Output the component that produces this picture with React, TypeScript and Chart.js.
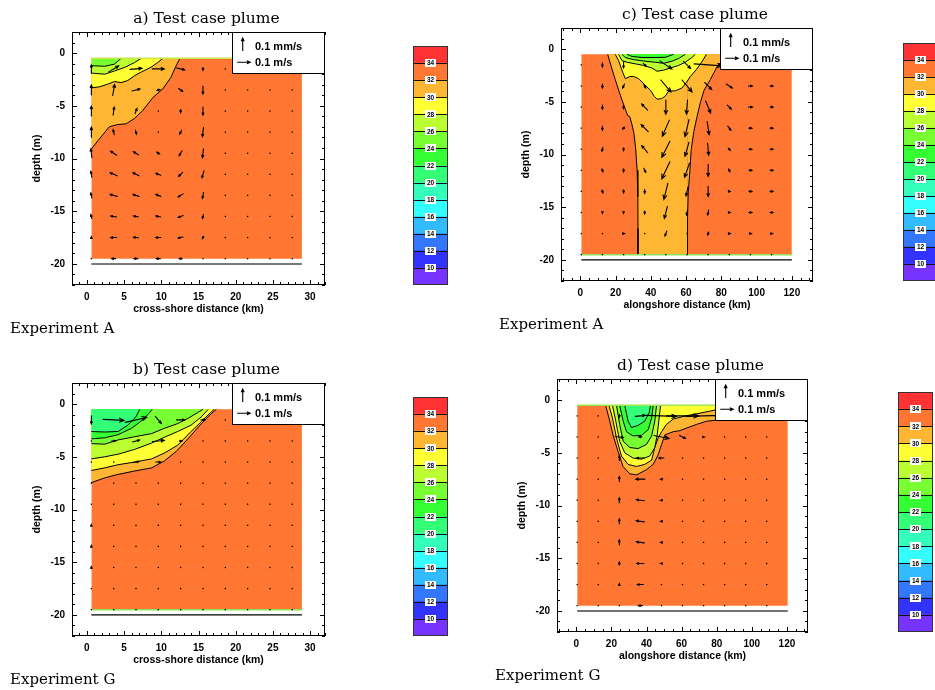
import React, { useEffect, useRef } from 'react';
import { Chart, registerables } from 'chart.js';

Chart.register(...registerables);

const SANS = '"Liberation Sans", Arial, sans-serif';
const SERIF = '"DejaVu Serif", serif';

// ---------- salinity classes / colour bar ----------
const SALINITY_EDGES = [8, 10, 12, 14, 16, 18, 20, 22, 24, 26, 28, 30, 32, 34, 36];
const SALINITY_COLORS = ['#7733ff', '#3333ff', '#3377ff', '#33bbff', '#33ffff', '#33ffbb', '#33ff77', '#33ff33', '#77ff33', '#bbff33', '#ffff33', '#ffb733', '#ff7733', '#ff3333'];
const COLORBAR_LABELS = [10, 12, 14, 16, 18, 20, 22, 24, 26, 28, 30, 32, 34];
const AMBIENT_SALINITY = 33;

// ---------- axes ----------
const DEPTH_TICKS = [-20, -15, -10, -5, 0];
const CROSS_TICKS = [0, 5, 10, 15, 20, 25, 30];
const ALONG_TICKS = [0, 20, 40, 60, 80, 100, 120];

// ---------- velocity grid ----------
const DEPTH_ROWS = [-1.5, -3.5, -5.5, -7.5, -9.5, -11.5, -13.5, -15.5, -17.5, -19.5];
const CROSS_COLS = [0.6, 3.6, 6.6, 9.6, 12.6, 15.6, 18.6, 21.6, 24.6, 27.6];
const ALONG_COLS = [0.5, 12.5, 24.5, 36.5, 48.5, 60.5, 72.5, 84.5, 96.5, 108.5];
const REF_U = 10; // cm/s  (0.1 m/s)
const REF_W = 100; // µm/s (0.1 mm/s)

// Panel a: horizontal velocity (cm/s) and vertical velocity (µm/s)
const U_A = [
  [0, 7.7, 9.2, 9.2, 6.2, 0, 0.4, 0.4, 0.4, 0.4],
  [0, 1.5, 6.2, 2.3, 3.1, 0, 0.4, 0.4, 0.4, 0.4],
  [0, 0.8, 1.5, 0.4, 0, 0, 0.4, 0.4, 0.4, 0.4],
  [0, -0.8, 0.8, 0, -1.5, -0.8, 0.4, 0.4, 0.4, 0.4],
  [-0.8, -4.6, -3.8, -2.3, -2.3, -0.8, 0.4, 0.4, 0.4, 0.4],
  [-0.8, -5.4, -4.6, -3.8, -3.1, -1.5, 0.4, 0.4, 0.4, 0.4],
  [-0.8, -5.4, -4.6, -3.8, -3.8, -0.8, 0.4, 0.4, 0.4, 0.4],
  [-0.8, -4.6, -3.8, -3.8, -3.8, -0.8, 0.4, 0.4, 0.4, 0.4],
  [0, -4.6, -3.8, -3.8, -3.8, -0.8, 0.4, 0.4, 0.4, 0.4],
  [0, -3.1, -3.1, -3.1, -2.3, 0, 0.4, 0.4, 0.4, 0.4],
];
const W_A = [
  [62, 46, 8, 0, -15, -23, 0, 0, 0, 0],
  [77, 85, 15, 8, -23, -62, 0, 0, 0, 0],
  [77, 62, 38, 0, -23, -62, 0, 0, 0, 0],
  [77, 38, -31, -8, -31, -69, 0, 0, 0, 0],
  [69, 31, 23, 15, -38, -69, 0, 0, 0, 0],
  [46, 23, 23, 15, -31, -54, 0, 0, 0, 0],
  [38, 15, 15, 15, -23, -46, 0, 0, 0, 0],
  [31, 8, 8, 8, -15, -31, 0, 0, 0, 0],
  [15, 0, 4, 0, -8, -15, 0, 0, 0, 0],
  [4, 0, 0, 0, 0, 4, 0, 0, 0, 0],
];

// Panel b
const U_B = [
  [0, 16, 16.5, 4.6, 6.2, 3.1, 0.4, 0.4, 0.4, 0.4],
  [0.4, 3.1, 5.4, 9.2, 2.3, 0.4, 0.4, 0.4, 0.4, 0.4],
  [0.4, 0.4, 4.6, 3.8, 0.4, 0.4, 0.4, 0.4, 0.4, 0.4],
  [0.4, 0.4, 0.4, 0.4, 0.4, 0.4, 0.4, 0.4, 0.4, 0.4],
  [0.4, 0.4, 0.4, 0.4, 0.4, 0.4, 0.4, 0.4, 0.4, 0.4],
  [0, 0.4, 0.4, 0.4, 0.4, 0.4, 0.4, 0.4, 0.4, 0.4],
  [0, 0.4, 0.4, 0.4, 0.4, 0.4, 0.4, 0.4, 0.4, 0.4],
  [0, 0.4, 0.4, 0.4, 0.4, 0.4, 0.4, 0.4, 0.4, 0.4],
  [0, 0.4, 0.4, 0.4, 0.4, 0.4, 0.4, 0.4, 0.4, 0.4],
  [0.4, 0.4, 0.4, 0.4, 0.4, 0.4, 0.4, 0.4, 0.4, 0.4],
];
const W_B = [
  [-62, -8, 38, -54, 0, 0, 0, 0, 0, 0],
  [0, 0, 15, 8, 0, 0, 0, 0, 0, 0],
  [0, 0, 8, 0, 0, 0, 0, 0, 0, 0],
  [0, 0, 0, 0, 0, 0, 0, 0, 0, 0],
  [0, 0, 0, 0, 0, 0, 0, 0, 0, 0],
  [15, 0, 0, 0, 0, 0, 0, 0, 0, 0],
  [15, 0, 0, 0, 0, 0, 0, 0, 0, 0],
  [15, 0, 0, 0, 0, 0, 0, 0, 0, 0],
  [8, 0, 0, 0, 0, 0, 0, 0, 0, 0],
  [0, 0, 0, 0, 0, 0, 0, 0, 0, 0],
];

// Panel c
const U_C = [
  [0.4, 0, 0, 2.3, 9.2, 5.4, 21.5, 15.4, 7.7, 3.8],
  [0.4, 0, -1.5, 1.5, 7.7, 7.7, 5.4, 4.6, 3.1, 2.3],
  [0.4, 0, 0, -4.6, 0, -0.8, 3.8, 3.1, 3.1, 2.3],
  [0.4, 0, -1.5, -5.4, -5.4, -3.1, 1.5, 2.3, 2.3, 2.3],
  [0.4, -0.8, 0, -4.6, -6.2, -3.1, 0.8, 1.5, 2.3, 2.3],
  [0.4, 0.8, 0, 1.5, -6.2, -3.8, 0, 0.8, 2.3, 2.3],
  [0.4, 0.8, 0, 0, -3.1, -1.5, 0, 1.5, 2.3, 2.3],
  [0.4, 0, 0, 0, -2.3, -0.8, -0.8, 1.5, 2.3, 2.3],
  [0.4, 0.4, 1.5, 0.4, -1.5, 0.4, -0.8, 1.5, 1.5, 1.5],
  [0.4, 0.4, 0.4, 0.4, 0.4, 0.4, 0.4, 0.4, 0.4, 0.4],
];
const W_C = [
  [0, -31, -46, -23, -62, -54, -15, -15, 0, 0],
  [0, -31, -31, -31, -92, -92, -54, -31, 0, 0],
  [0, -31, -23, 46, -108, -108, -92, -31, 0, 0],
  [0, -31, -15, 54, -123, -131, -100, -31, 0, 0],
  [0, -31, -23, 54, -123, -108, -92, -15, 0, 0],
  [0, -23, -23, -31, -131, -108, -92, -23, 0, 0],
  [0, -23, -23, -31, -123, -69, -77, 0, 0, 0],
  [0, -15, -15, -23, -92, -38, -38, 0, 0, 0],
  [0, 0, 0, 0, -38, 0, -23, 0, 0, 0],
  [0, 0, 0, 0, 0, 0, 0, 0, 0, 0],
];

// Panel d
const U_D = [
  [0.4, 0.4, 0, 7.7, 23, 24.6, 27, 15.4, 3.8, 2.3],
  [0.4, 0.4, 6.2, -2.3, 11.5, 4.6, 1.5, 0.4, 0.4, 0.4],
  [0.4, 0.4, 0, -6.2, -3.8, -0.8, 0.4, 0.4, 0.4, 0.4],
  [0.4, 0.4, 0, -6.9, -1.5, 0.4, 0.4, 0.4, 0.4, 0.4],
  [0.4, 0.4, 0, -6.2, -1.5, 0.8, 0.4, 0.4, 0.4, 0.4],
  [0.4, 0.4, 0, -6.2, -1.5, 0.4, 0.4, 0.4, 0.4, 0.4],
  [0.4, 0.4, 0, -6.2, -1.5, 0.4, 0.4, 0.4, 0.4, 0.4],
  [0.4, 0.4, 0, -5.4, -1.5, 0.4, 0.4, 0.4, 0.4, 0.4],
  [0.4, 0.4, 0, -4.6, 0.4, 0.4, 0.4, 0.4, 0.4, 0.4],
  [0.4, 0.4, 0.4, -3.1, 0.4, 0.4, 0.4, 0.4, 0.4, 0.4],
];
const W_D = [
  [0, 0, -23, 8, -8, 0, 8, 0, 0, 0],
  [0, 0, -8, 0, -23, -23, 0, 0, 0, 0],
  [0, 0, 38, 0, 0, 0, 0, 0, 0, 0],
  [0, 0, 38, 0, 0, 0, 0, 0, 0, 0],
  [0, 0, 38, 8, 0, 0, 0, 0, 0, 0],
  [0, 0, 38, 8, 0, 0, 0, 0, 0, 0],
  [0, 0, 38, 8, 0, 0, 0, 0, 0, 0],
  [0, 0, 23, 0, 0, 0, 0, 0, 0, 0],
  [0, 0, 15, 0, 0, 0, 0, 0, 0, 0],
  [0, 0, 0, 0, 0, 0, 0, 0, 0, 0],
];

// ---------- salinity contours [distance km, depth m] ----------
const A_S32 = [[0.6, -9.1], [1.5, -8.3], [3.0, -7.0], [4.0, -6.8], [5.3, -6.7], [6.4, -6.2], [7.5, -5.45], [8.9, -4.2], [10.2, -3.4], [11.3, -2.3], [12.0, -1.2], [12.5, -0.5]];
const A_S30 = [[0.6, -3.3], [1.7, -3.2], [2.8, -2.95], [3.7, -2.7], [4.6, -2.8], [5.5, -2.6], [6.4, -2.15], [7.3, -1.8], [8.6, -1.35], [9.5, -0.9], [10.2, -0.5]];
const A_S28 = [[0.6, -1.9], [2.4, -2.0], [3.7, -1.7], [5.1, -1.35], [6.4, -0.9], [7.3, -0.5]];
const A_S26 = [[0.6, -1.2], [2.4, -1.25], [3.7, -1.05], [4.6, -0.5]];

const B_S32 = [[0.6, -7.45], [2.4, -7.0], [4.0, -6.7], [6.4, -6.35], [8.7, -6.05], [10.4, -5.4], [12.0, -4.5], [13.7, -3.2], [15.2, -2.0], [16.5, -1.05], [17.4, -0.5]];
const B_S30 = [[0.6, -6.3], [2.4, -6.05], [4.2, -5.75], [6.4, -5.5], [8.7, -5.2], [10.4, -4.65], [12.2, -3.9], [14.0, -2.6], [15.4, -1.65], [16.7, -0.75], [17.1, -0.5]];
const B_S28 = [[0.6, -5.2], [2.4, -5.0], [4.2, -4.75], [6.4, -4.3], [8.7, -3.7], [10.4, -3.15], [12.2, -2.6], [14.0, -2.0], [15.4, -1.2], [16.3, -0.5]];
const B_S26 = [[0.6, -3.75], [2.4, -3.8], [4.2, -3.4], [6.4, -3.1], [8.7, -2.8], [10.4, -2.3], [12.2, -1.85], [13.6, -1.35], [14.9, -0.8], [15.6, -0.5]];
const B_S24 = [[0.6, -3.3], [2.4, -3.2], [4.2, -2.9], [6.0, -2.3], [7.5, -1.5], [8.3, -0.9], [8.8, -0.5]];
const B_S22 = [[0.6, -2.6], [2.4, -2.65], [4.2, -2.6], [5.5, -2.0], [6.6, -1.2], [7.1, -0.5]];

const C_S32 = [[15.5, -0.5], [17.4, -1.6], [19.8, -2.9], [22.7, -4.4], [25.5, -5.7], [26.8, -6.3], [28.0, -6.4], [29.2, -7.1], [30.4, -8.0], [31.4, -9.5], [32.2, -11.5], [32.6, -14.0], [32.7, -17.0], [32.7, -19.5], [60.8, -19.5], [60.8, -16.0], [61.2, -13.6], [62.2, -11.4], [62.9, -9.5], [64.4, -7.8], [66.2, -6.4], [68.2, -5.0], [70.2, -3.9], [73.7, -2.9], [77.5, -1.7], [80.3, -1.1], [82.0, -0.5]];
const C_S30 = [[19.8, -0.5], [21.7, -1.1], [24.0, -2.2], [25.5, -2.8], [28.0, -2.6], [30.2, -2.6], [33.0, -2.8], [36.0, -3.3], [39.7, -3.9], [42.0, -4.5], [43.5, -4.75], [46.0, -4.7], [48.0, -4.5], [50.0, -4.0], [54.0, -3.95], [57.6, -3.7], [60.0, -3.2], [62.4, -2.6], [66.0, -1.9], [69.0, -1.2], [71.5, -0.5]];
const C_S28 = [[21.7, -0.5], [23.6, -1.1], [26.5, -1.25], [31.2, -1.4], [35.9, -1.55], [40.6, -1.8], [43.5, -2.1], [47.2, -2.0], [51.0, -1.8], [55.7, -1.55], [59.5, -1.25], [63.3, -0.8], [65.2, -0.5]];
const C_S26 = [[23.6, -0.5], [25.5, -0.8], [30.2, -1.0], [36.8, -1.15], [42.5, -1.25], [47.2, -1.35], [52.0, -1.15], [55.7, -0.9], [59.5, -0.5]];
const C_S24 = [[26.5, -0.5], [29.3, -0.7], [35.0, -0.8], [42.5, -0.8], [48.2, -0.78], [52.9, -0.5]];

const D_S32 = [[16.7, -0.5], [18.6, -1.7], [20.9, -3.3], [23.8, -4.9], [26.6, -6.3], [30.5, -7.0], [34.3, -7.1], [40.0, -6.6], [43.8, -6.1], [46.6, -5.2], [48.6, -4.2], [50.5, -3.3], [55.2, -3.0], [59.0, -2.9], [62.9, -2.65], [68.6, -2.3], [74.3, -2.0], [80.0, -1.9], [85.0, -1.5], [90.0, -0.5]];
const D_S30 = [[18.6, -0.5], [20.6, -1.7], [22.9, -3.6], [25.7, -5.3], [29.5, -6.1], [34.3, -6.3], [39.0, -6.1], [42.9, -5.7], [44.7, -4.5], [46.6, -3.6], [48.6, -3.0], [51.4, -2.3], [55.2, -1.8], [60.9, -1.55], [68.6, -1.3], [76.2, -1.05], [80.0, -0.9], [86.0, -0.5]];
const D_S28 = [[20.6, -0.5], [22.5, -2.0], [24.7, -3.9], [27.6, -5.0], [32.3, -5.5], [37.1, -5.6], [41.9, -5.3], [44.7, -4.5], [46.1, -3.3], [47.2, -1.7], [48.0, -0.5]];
const D_S26 = [[22.9, -0.5], [24.7, -2.3], [26.7, -3.9], [30.5, -4.5], [35.2, -4.6], [40.0, -4.2], [42.9, -3.4], [44.7, -2.0], [45.7, -0.5]];
const D_S24 = [[24.7, -0.5], [26.7, -2.0], [28.6, -3.0], [32.3, -3.4], [37.1, -3.35], [41.0, -2.8], [42.9, -1.7], [43.8, -0.5]];
const D_S22 = [[27.6, -0.5], [29.5, -2.0], [31.4, -2.6], [35.2, -2.4], [39.0, -2.0], [41.5, -1.2], [42.3, -0.5]];

// ---------- layout (page pixels) ----------
const PAGE_W = 935;
const PAGE_H = 690;
const Y_AXIS_W = 41;
const X_AXIS_H = 30;
const U_PX = 1.3; // px per cm/s
const W_PX = 0.13; // px per µm/s

const PANELS = [
  {
    key: 'a', title: 'a) Test case plume', experiment: 'Experiment A',
    frame: { l: 72, t: 32, r: 325, b: 285 }, xRange: [-2, 32], xTicks: CROSS_TICKS, xMinor: 1,
    xTitle: 'cross-shore distance (km)', domain: [0.6, 28.9],
    contours: [[32, A_S32], [30, A_S30], [28, A_S28], [26, A_S26]],
    cols: CROSS_COLS, u: U_A, w: W_A,
    edge: { y: -0.5, color: '#c8e648' }, floor: { color: '#7a7a7a', width: 2 },
    bar: { l: 413, t: 46, r: 448, b: 285 }, barCanvasW: PAGE_W,
  },
  {
    key: 'b', title: 'b) Test case plume', experiment: 'Experiment G',
    frame: { l: 72, t: 383, r: 325, b: 636 }, xRange: [-2, 32], xTicks: CROSS_TICKS, xMinor: 1,
    xTitle: 'cross-shore distance (km)', domain: [0.6, 28.9],
    contours: [[32, B_S32], [30, B_S30], [28, B_S28], [26, B_S26], [24, B_S24], [22, B_S22]],
    cols: CROSS_COLS, u: U_B, w: W_B,
    edge: { y: -19.5, color: '#8fe25a' }, floor: { color: '#000', width: 1.3 },
    bar: { l: 413, t: 397, r: 448, b: 636 }, barCanvasW: PAGE_W,
  },
  {
    key: 'c', title: 'c) Test case plume', experiment: 'Experiment A',
    frame: { l: 561, t: 28, r: 813, b: 281 }, xRange: [-11, 132], xTicks: ALONG_TICKS, xMinor: 5,
    xTitle: 'alongshore distance (km)', domain: [0.5, 120],
    contours: [[32, C_S32], [30, C_S30], [28, C_S28], [26, C_S26], [24, C_S24]],
    cols: ALONG_COLS, u: U_C, w: W_C,
    edge: { y: -19.5, color: '#8fe25a' }, floor: { color: '#000', width: 1.3 },
    bar: { l: 903, t: 43, r: 938, b: 281 }, barCanvasW: 950,
  },
  {
    key: 'd', title: 'd) Test case plume', experiment: 'Experiment G',
    frame: { l: 557, t: 379, r: 808, b: 632 }, xRange: [-11, 132], xTicks: ALONG_TICKS, xMinor: 5,
    xTitle: 'alongshore distance (km)', domain: [0.5, 120.5],
    contours: [[32, D_S32], [30, D_S30], [28, D_S28], [26, D_S26], [24, D_S24], [22, D_S22]],
    cols: ALONG_COLS, u: U_D, w: W_D,
    edge: { y: -0.5, color: '#9be64a' }, floor: { color: '#444', width: 1.5 },
    bar: { l: 898, t: 392, r: 933, b: 632 }, barCanvasW: PAGE_W,
  },
];

// ---------- helpers ----------
function bandColor(level) {
  let idx = 0;
  for (let i = 0; i < SALINITY_EDGES.length - 1; i++) {
    if (level > SALINITY_EDGES[i] && level <= SALINITY_EDGES[i + 1]) idx = i;
  }
  return SALINITY_COLORS[idx];
}

function drawArrow(ctx, x0, y0, x1, y1) {
  const dx = x1 - x0;
  const dy = y1 - y0;
  const len = Math.hypot(dx, dy);
  if (len < 1.6) {
    ctx.fillRect((x0 + x1) / 2 - 0.65, (y0 + y1) / 2 - 0.65, 1.3, 1.3);
    return;
  }
  const a = Math.atan2(dy, dx);
  const h = Math.min(5, Math.max(2, len * 0.28));
  const sp = 0.42;
  ctx.beginPath();
  ctx.moveTo(x0, y0);
  ctx.lineTo(x1, y1);
  ctx.moveTo(x1 - h * Math.cos(a - sp), y1 - h * Math.sin(a - sp));
  ctx.lineTo(x1, y1);
  ctx.lineTo(x1 - h * Math.cos(a + sp), y1 - h * Math.sin(a + sp));
  ctx.stroke();
}

function panelPlugin(p) {
  return {
    id: 'panel-' + p.key,
    afterDatasetsDraw(chart) {
      const { ctx, scales } = chart;
      const xs = scales.x;
      const ys = scales.y;
      ctx.save();
      ctx.strokeStyle = '#000';
      ctx.fillStyle = '#000';
      ctx.lineWidth = 1.1;
      ctx.lineCap = 'round';
      DEPTH_ROWS.forEach((yv, i) => {
        p.cols.forEach((xv, j) => {
          const px = xs.getPixelForValue(xv);
          const py = ys.getPixelForValue(yv);
          const dx = p.u[i][j] * U_PX;
          const dy = -p.w[i][j] * W_PX;
          drawArrow(ctx, px - dx / 2, py - dy / 2, px + dx / 2, py + dy / 2);
        });
      });
      ctx.restore();
    },
    afterDraw(chart) {
      const { ctx, chartArea, scales } = chart;
      const { left, right, top, bottom } = chartArea;
      const xs = scales.x;
      const ys = scales.y;
      ctx.save();
      ctx.strokeStyle = '#000';
      ctx.lineWidth = 1;
      // frame
      ctx.strokeRect(Math.round(left) + 0.5, Math.round(top) + 0.5, Math.round(right - left) - 1, Math.round(bottom - top) - 1);
      // inward ticks
      ctx.beginPath();
      const tickSet = (scale, step, majors, horiz) => {
        const lo = Math.ceil(scale.min / step - 1e-9);
        const hi = Math.floor(scale.max / step + 1e-9);
        for (let k = lo; k <= hi; k++) {
          const v = k * step;
          const major = majors.some((m) => Math.abs(m - v) < 1e-9);
          const L = major ? 5 : 3;
          const pix = Math.round(scale.getPixelForValue(v)) + 0.5;
          if (horiz) {
            ctx.moveTo(pix, bottom); ctx.lineTo(pix, bottom - L);
            ctx.moveTo(pix, top); ctx.lineTo(pix, top + L);
          } else {
            ctx.moveTo(left, pix); ctx.lineTo(left + L, pix);
            ctx.moveTo(right, pix); ctx.lineTo(right - L, pix);
          }
        }
      };
      tickSet(xs, p.xMinor, p.xTicks, true);
      tickSet(ys, 1, DEPTH_TICKS, false);
      ctx.stroke();

      // reference-vector box
      const bw = 93;
      const bh = 42;
      const bx = Math.round(right) - bw;
      const by = Math.round(top);
      ctx.fillStyle = '#fff';
      ctx.fillRect(bx, by, bw, bh);
      ctx.strokeRect(bx + 0.5, by + 0.5, bw - 1, bh - 1);
      ctx.fillStyle = '#000';
      ctx.lineWidth = 1.1;
      const up = REF_W * W_PX;
      drawArrow(ctx, bx + 10.7, by + 12.5 + up / 2, bx + 10.7, by + 12.5 - up / 2);
      const rt = REF_U * U_PX;
      drawArrow(ctx, bx + 11.7 - rt / 2, by + 30.3, bx + 11.7 + rt / 2, by + 30.3);
      ctx.font = `bold 11px ${SANS}`;
      ctx.textAlign = 'left';
      ctx.textBaseline = 'alphabetic';
      ctx.fillText('0.1 mm/s', bx + 23, by + 18);
      ctx.fillText('0.1 m/s', bx + 23, by + 34);

      // titles
      ctx.font = `15.5px ${SERIF}`;
      ctx.textAlign = 'center';
      ctx.fillText(p.title, (left + right) / 2 + 8, top - 9.3);
      ctx.font = `15px ${SERIF}`;
      ctx.textAlign = 'left';
      ctx.fillText(p.experiment, left - 62, bottom + 48);
      ctx.restore();
    },
  };
}

function plotConfig(p) {
  const [d0, d1] = p.domain;
  const hideEdge = (ctx) => {
    const y0 = ctx.p0.parsed.y;
    const y1 = ctx.p1.parsed.y;
    return (y0 <= -19.45 && y1 <= -19.45) || (y0 >= -0.55 && y1 >= -0.55) ? 'rgba(0,0,0,0)' : '#000';
  };
  const layers = [
    {
      data: [{ x: d0, y: -19.5 }, { x: d1, y: -19.5 }],
      fill: { value: -0.5 }, backgroundColor: bandColor(AMBIENT_SALINITY), borderWidth: 0,
    },
    ...p.contours.map(([level, pts]) => ({
      data: pts.map(([x, y]) => ({ x, y })),
      fill: { value: -0.5 }, backgroundColor: bandColor(level),
      borderColor: '#000', borderWidth: 1, segment: { borderColor: hideEdge },
    })),
    {
      data: [{ x: d0, y: p.edge.y }, { x: d1, y: p.edge.y }],
      fill: false, borderColor: p.edge.color, borderWidth: 1.5,
    },
    {
      data: [{ x: d0, y: -20 }, { x: d1, y: -20 }],
      fill: false, borderColor: p.floor.color, borderWidth: p.floor.width,
    },
  ];
  const n = layers.length;
  const datasets = layers.map((ds, i) => ({ ...ds, order: n - i, pointRadius: 0, tension: 0 }));
  const f = p.frame;
  const tickFont = { family: SANS, size: 10, weight: 'bold' };
  const titleFont = { family: SANS, size: 10.5, weight: 'bold' };
  return {
    type: 'line',
    data: { datasets },
    options: {
      animation: false,
      responsive: false,
      events: [],
      layout: { padding: { left: f.l - Y_AXIS_W, top: f.t, right: PAGE_W - f.r, bottom: PAGE_H - f.b - X_AXIS_H } },
      plugins: { legend: { display: false }, tooltip: { enabled: false }, title: { display: false } },
      scales: {
        x: {
          type: 'linear', min: p.xRange[0], max: p.xRange[1],
          afterBuildTicks: (s) => { s.ticks = p.xTicks.map((v) => ({ value: v })); },
          afterFit: (s) => { s.height = X_AXIS_H; },
          grid: { display: false, drawTicks: false }, border: { display: false },
          ticks: { padding: 6, color: '#000', font: tickFont, maxRotation: 0, autoSkip: false, callback: (v) => String(v) },
          title: { display: true, text: p.xTitle, color: '#000', font: titleFont, padding: 0 },
        },
        y: {
          type: 'linear', min: -22, max: 2,
          afterBuildTicks: (s) => { s.ticks = DEPTH_TICKS.map((v) => ({ value: v })); },
          afterFit: (s) => { s.width = Y_AXIS_W; },
          grid: { display: false, drawTicks: false }, border: { display: false },
          ticks: { padding: 7, color: '#000', font: tickFont, callback: (v) => String(v) },
          title: { display: true, text: 'depth (m)', color: '#000', font: titleFont, padding: 0 },
        },
      },
    },
    plugins: [panelPlugin(p)],
  };
}

function colorbarPlugin(key) {
  return {
    id: 'cbar-' + key,
    afterDatasetsDraw(chart) {
      const { ctx, chartArea, scales } = chart;
      const { left, right, top, bottom } = chartArea;
      const ys = scales.y;
      ctx.save();
      ctx.strokeStyle = '#111';
      ctx.lineWidth = 1;
      ctx.beginPath();
      COLORBAR_LABELS.forEach((v) => {
        const py = Math.round(ys.getPixelForValue(v)) + 0.5;
        ctx.moveTo(left, py);
        ctx.lineTo(right, py);
      });
      ctx.stroke();
      ctx.strokeStyle = '#333';
      ctx.strokeRect(Math.round(left) + 0.5, Math.round(top) + 0.5, Math.round(right - left) - 1, Math.round(bottom - top) - 1);
      const cx = (left + right) / 2;
      ctx.font = `bold 6.5px ${SANS}`;
      ctx.textAlign = 'center';
      ctx.textBaseline = 'middle';
      COLORBAR_LABELS.forEach((v) => {
        const py = ys.getPixelForValue(v);
        ctx.fillStyle = '#fff';
        ctx.fillRect(Math.round(cx - 5.5), Math.round(py - 4), 11, 8);
        ctx.fillStyle = '#000';
        ctx.fillText(String(v), cx, py + 0.5);
      });
      ctx.restore();
    },
  };
}

function colorbarConfig(p) {
  const b = p.bar;
  const datasets = SALINITY_COLORS.map((c, i) => ({
    data: [[SALINITY_EDGES[i], SALINITY_EDGES[i + 1]]],
    backgroundColor: c,
    borderWidth: 0,
    barPercentage: 1,
    categoryPercentage: 1,
    grouped: false,
  }));
  return {
    type: 'bar',
    data: { labels: ['salinity'], datasets },
    options: {
      animation: false,
      responsive: false,
      events: [],
      layout: { padding: { left: b.l, top: b.t, right: p.barCanvasW - b.r, bottom: PAGE_H - b.b } },
      plugins: { legend: { display: false }, tooltip: { enabled: false } },
      scales: {
        x: { display: false },
        y: { display: false, min: SALINITY_EDGES[0], max: SALINITY_EDGES[SALINITY_EDGES.length - 1] },
      },
    },
    plugins: [colorbarPlugin(p.key)],
  };
}

function ChartCanvas({ make, width }) {
  const ref = useRef(null);
  useEffect(() => {
    const chart = new Chart(ref.current, make());
    return () => chart.destroy();
  }, []);
  return (
    <canvas
      ref={ref}
      width={width}
      height={PAGE_H}
      style={{ position: 'absolute', left: 0, top: 0, width, height: PAGE_H, pointerEvents: 'none' }}
    />
  );
}

export default function App() {
  return (
    <div style={{ position: 'fixed', left: 0, top: 0, width: PAGE_W, height: PAGE_H, overflow: 'hidden', background: '#fff' }}>
      {PANELS.map((p) => (
        <ChartCanvas key={'plot-' + p.key} make={() => plotConfig(p)} width={PAGE_W} />
      ))}
      {PANELS.map((p) => (
        <ChartCanvas key={'bar-' + p.key} make={() => colorbarConfig(p)} width={p.barCanvasW} />
      ))}
    </div>
  );
}
